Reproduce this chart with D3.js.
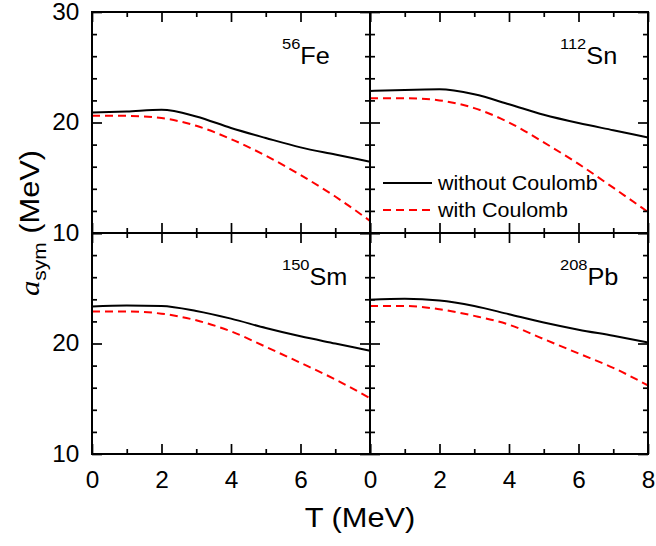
<!DOCTYPE html>
<html>
<head>
<meta charset="utf-8">
<script src="https://cdn.jsdelivr.net/npm/d3@7"></script>
<style>
  html, body { margin: 0; padding: 0; background: #fff; }
  text { font-family: "Liberation Sans", Arial, sans-serif; fill: #000; }
</style>
</head>
<body>
<svg id="chart" width="656" height="546"></svg>
<script>
// ---- data ----
const temperatures = [0, 1, 2, 3, 4, 5, 6, 7, 8];
const nuclei = ["Fe", "Sn", "Sm", "Pb"];
const massNumbers = ["56", "112", "150", "208"];
const fe_without = [20.9, 21.0, 21.15, 20.55, 19.5, 18.6, 17.75, 17.1, 16.45];
const fe_with    = [20.6, 20.6, 20.4, 19.7, 18.5, 17.0, 15.25, 13.3, 11.1];
const sn_without = [22.85, 22.95, 23.0, 22.55, 21.65, 20.7, 19.95, 19.3, 18.65];
const sn_with    = [22.2, 22.2, 22.0, 21.3, 20.0, 18.2, 16.25, 14.1, 11.9];
const sm_without = [23.35, 23.45, 23.4, 22.95, 22.25, 21.4, 20.65, 20.0, 19.35];
const sm_with    = [22.9, 22.9, 22.7, 22.1, 21.1, 19.7, 18.25, 16.75, 15.05];
const pb_without = [23.95, 24.05, 23.9, 23.4, 22.65, 21.9, 21.25, 20.7, 20.1];
const pb_with    = [23.4, 23.4, 23.1, 22.5, 21.7, 20.4, 19.1, 17.8, 16.2];
const seriesNames = ["without Coulomb", "with Coulomb"];
const xMajorTicks = [0, 2, 4, 6, 8];
const xMinorTicks = [1, 3, 5, 7];
const yMajorTicks = [10, 20, 30];
const yMinorTicks = [12, 14, 16, 18, 22, 24, 26, 28];

const panelData = [
  { nucleus: nuclei[0], mass: massNumbers[0], without: fe_without, with: fe_with, col: 0, row: 0 },
  { nucleus: nuclei[1], mass: massNumbers[1], without: sn_without, with: sn_with, col: 1, row: 0 },
  { nucleus: nuclei[2], mass: massNumbers[2], without: sm_without, with: sm_with, col: 0, row: 1 },
  { nucleus: nuclei[3], mass: massNumbers[3], without: pb_without, with: pb_with, col: 1, row: 1 },
];

// ---- layout ----
const svg = d3.select("#chart");
const mLeft = 92, mTop = 12, pw = 278, ph = 221;
const MAJ = 10, MIN = 5;
const SX = 1.1; // horizontal stretch of the original's lettering

panelData.forEach(p => {
  const x0 = mLeft + p.col * pw, y0 = mTop + p.row * ph;
  const x = d3.scaleLinear().domain([0, 8]).range([x0, x0 + pw]);
  const y = d3.scaleLinear().domain([10, 30]).range([y0 + ph, y0]);
  const g = svg.append("g");

  // lines
  const line = d3.line().x((d, i) => x(temperatures[i])).y(d => y(d)).curve(d3.curveMonotoneX);
  g.append("path").attr("d", line(p.with)).attr("fill", "none")
    .attr("stroke", "#ff0000").attr("stroke-width", 2).attr("stroke-dasharray", "8,5");
  g.append("path").attr("d", line(p.without)).attr("fill", "none")
    .attr("stroke", "#000").attr("stroke-width", 2);

  // axes (ticks pointing inward)
  const styleAxis = sel => {
    sel.select(".domain").remove();
    sel.selectAll(".tick line").attr("stroke", "#000").attr("stroke-width", 1.7);
    sel.selectAll(".tick text").remove();
  };
  const mk = (axisFn, scale, vals, size, transform) => {
    g.append("g").attr("transform", transform)
      .call(axisFn(scale).tickValues(vals).tickSize(-size).tickFormat(""))
      .call(styleAxis);
  };
  mk(d3.axisBottom, x, xMajorTicks, MAJ, `translate(0,${y0 + ph})`);
  mk(d3.axisBottom, x, xMinorTicks, MIN, `translate(0,${y0 + ph})`);
  mk(d3.axisTop, x, xMajorTicks, MAJ, `translate(0,${y0})`);
  mk(d3.axisTop, x, xMinorTicks, MIN, `translate(0,${y0})`);
  mk(d3.axisLeft, y, yMajorTicks, MAJ, `translate(${x0},0)`);
  mk(d3.axisLeft, y, yMinorTicks, MIN, `translate(${x0},0)`);
  mk(d3.axisRight, y, yMajorTicks, MAJ, `translate(${x0 + pw},0)`);
  mk(d3.axisRight, y, yMinorTicks, MIN, `translate(${x0 + pw},0)`);

  // frame
  g.append("rect").attr("x", x0).attr("y", y0).attr("width", pw).attr("height", ph)
    .attr("fill", "none").attr("stroke", "#000").attr("stroke-width", 2);

  // tick labels
  if (p.row === 1) {
    const vals = p.col === 0 ? xMajorTicks.filter(v => v < 8) : xMajorTicks;
    const ax = g.append("g").attr("transform", `translate(0,${y0 + ph})`)
      .call(d3.axisBottom(x).tickValues(vals).tickSize(0).tickPadding(18));
    ax.select(".domain").remove();
    ax.selectAll("text").attr("font-size", 23).attr("transform", "scale(1.06,1)")
      .attr("font-family", "Liberation Sans, Arial, sans-serif");
  }
  if (p.col === 0) {
    const vals = p.row === 0 ? yMajorTicks : yMajorTicks.filter(v => v < 30);
    const ay = g.append("g").attr("transform", `translate(${x0},0)`)
      .call(d3.axisLeft(y).tickValues(vals).tickSize(0).tickPadding(12));
    ay.select(".domain").remove();
    ay.selectAll("text").attr("font-size", 23).attr("transform", "scale(1.06,1)")
      .attr("font-family", "Liberation Sans, Arial, sans-serif");
  }

  // nucleus label
  const lbl = g.append("text")
    .attr("transform", `translate(${x0 + 190},${y0 + 52}) scale(${SX},1)`);
  lbl.append("tspan").attr("font-size", 15).attr("dy", -15).text(p.mass);
  lbl.append("tspan").attr("font-size", 23).attr("dy", 15).text(p.nucleus);

  // legend in top-right panel
  if (p.col === 1 && p.row === 0) {
    const lx = x0 + 13, ly = [y0 + 171, y0 + 198];
    g.append("line").attr("x1", lx).attr("x2", lx + 49).attr("y1", ly[0]).attr("y2", ly[0])
      .attr("stroke", "#000").attr("stroke-width", 2);
    g.append("line").attr("x1", lx).attr("x2", lx + 49).attr("y1", ly[1]).attr("y2", ly[1])
      .attr("stroke", "#ff0000").attr("stroke-width", 2).attr("stroke-dasharray", "8,5");
    seriesNames.forEach((s, i) => {
      g.append("text").attr("transform", `translate(${lx + 55},${ly[i] + 7}) scale(${SX},1)`)
        .attr("font-size", 19.5).text(s);
    });
  }
});

// axis titles
svg.append("text").attr("transform", `translate(360,527) scale(${SX},1)`)
  .attr("text-anchor", "middle").attr("font-size", 28).text("T (MeV)");

const yt = svg.append("text").attr("transform", `translate(39,223) rotate(-90) scale(${SX},1)`)
  .attr("text-anchor", "middle").attr("font-size", 28);
yt.append("tspan").attr("font-style", "italic").attr("font-family", "Liberation Serif, Times New Roman, serif").text("a");
yt.append("tspan").attr("font-size", 19).attr("dy", 7).text("sym");
yt.append("tspan").attr("dy", -7).text(" (MeV)");
</script>
</body>
</html>
